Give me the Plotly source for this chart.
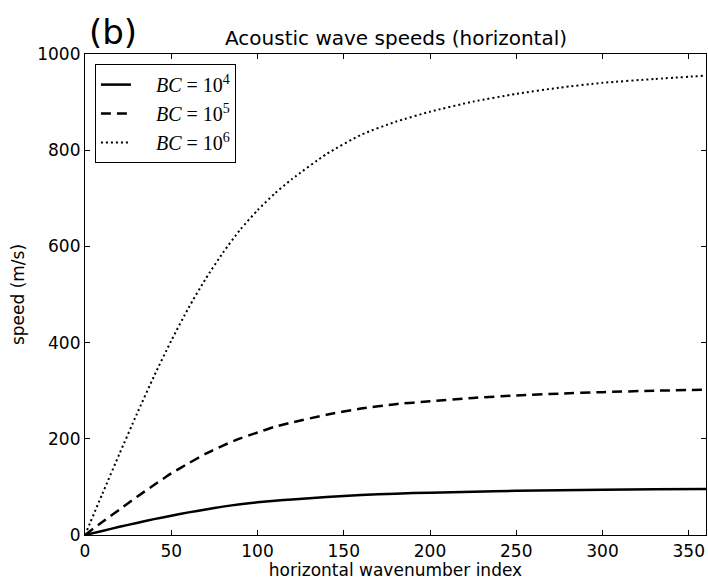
import plotly.graph_objects as go

# horizontal wavenumber index
x_idx = [0, 10, 20, 30, 40, 50, 60, 70, 80, 90, 100, 110, 120, 140, 160, 180, 200, 225, 250, 275, 300, 330, 360]
# speeds (m/s)
speed_bc4 = [0, 8.5, 17, 25, 33, 40, 47, 53, 59, 64, 68, 71, 74, 79, 83, 86, 88, 90, 92, 93, 94, 95, 95.5]
speed_bc5 = [0, 27, 53, 79, 104, 128, 149, 169, 186, 201, 213, 225, 234, 250, 263, 272, 278, 285, 290, 294, 297, 300, 302]
speed_bc6 = [0, 85, 169, 251, 330, 404, 472, 533, 587, 635, 675, 710, 740, 792, 832, 859, 880, 901, 917, 930, 940, 948, 955]

series_names = ["&nbsp;&nbsp;&nbsp;&nbsp;<i>BC</i> = 10<sup>4</sup>",
                "&nbsp;&nbsp;&nbsp;&nbsp;<i>BC</i> = 10<sup>5</sup>",
                "&nbsp;&nbsp;&nbsp;&nbsp;<i>BC</i> = 10<sup>6</sup>"]
x_ticks = [0, 50, 100, 150, 200, 250, 300, 350]
y_ticks = [0, 200, 400, 600, 800, 1000]

fig = go.Figure()
styles = [("solid", 2.5), ("10px,6px", 2.5), ("2px,3px", 2)]
for name, ys, (dash, w) in zip(series_names, [speed_bc4, speed_bc5, speed_bc6], styles):
    fig.add_trace(go.Scatter(x=x_idx, y=ys, mode="lines", name=name,
                             line=dict(color="black", width=w, dash=dash, shape="spline", smoothing=0.6)))

axis_common = dict(showline=True, linecolor="black", linewidth=1.2, mirror="ticks",
                   ticks="inside", ticklen=5, tickwidth=1, tickcolor="black",
                   showgrid=False, zeroline=False,
                   tickfont=dict(family="DejaVu Sans", size=17, color="black"))

fig.update_layout(
    width=708, height=580,
    margin=dict(l=85, r=2, t=54, b=45),
    paper_bgcolor="white", plot_bgcolor="white",
    font=dict(family="DejaVu Sans", color="black"),
    xaxis=dict(range=[0, 360], tickvals=x_ticks,
               title=dict(text="horizontal wavenumber index", standoff=3,
                          font=dict(family="DejaVu Sans", size=17, color="black")),
               **axis_common),
    yaxis=dict(range=[0, 1000], tickvals=y_ticks,
               title=dict(text="speed (m/s)", standoff=8,
                          font=dict(family="DejaVu Sans", size=17, color="black")),
               **axis_common),
    legend=dict(x=0.016, y=0.979, xanchor="left", yanchor="top",
                bgcolor="white", bordercolor="black", borderwidth=1,
                font=dict(family="Liberation Serif", size=20, color="black")),
    showlegend=True,
)

fig.add_annotation(text="Acoustic wave speeds (horizontal)", xref="paper", yref="paper",
                   x=0.5, y=1.0, xanchor="center", yanchor="bottom", yshift=2, showarrow=False,
                   font=dict(family="DejaVu Sans", size=20, color="black"))

fig.add_annotation(text="(b)", xref="paper", yref="paper", x=0.004, y=1.0,
                   xanchor="left", yanchor="bottom", yshift=0, showarrow=False,
                   font=dict(family="DejaVu Sans", size=34, color="black"))

fig.write_html("out.html")
